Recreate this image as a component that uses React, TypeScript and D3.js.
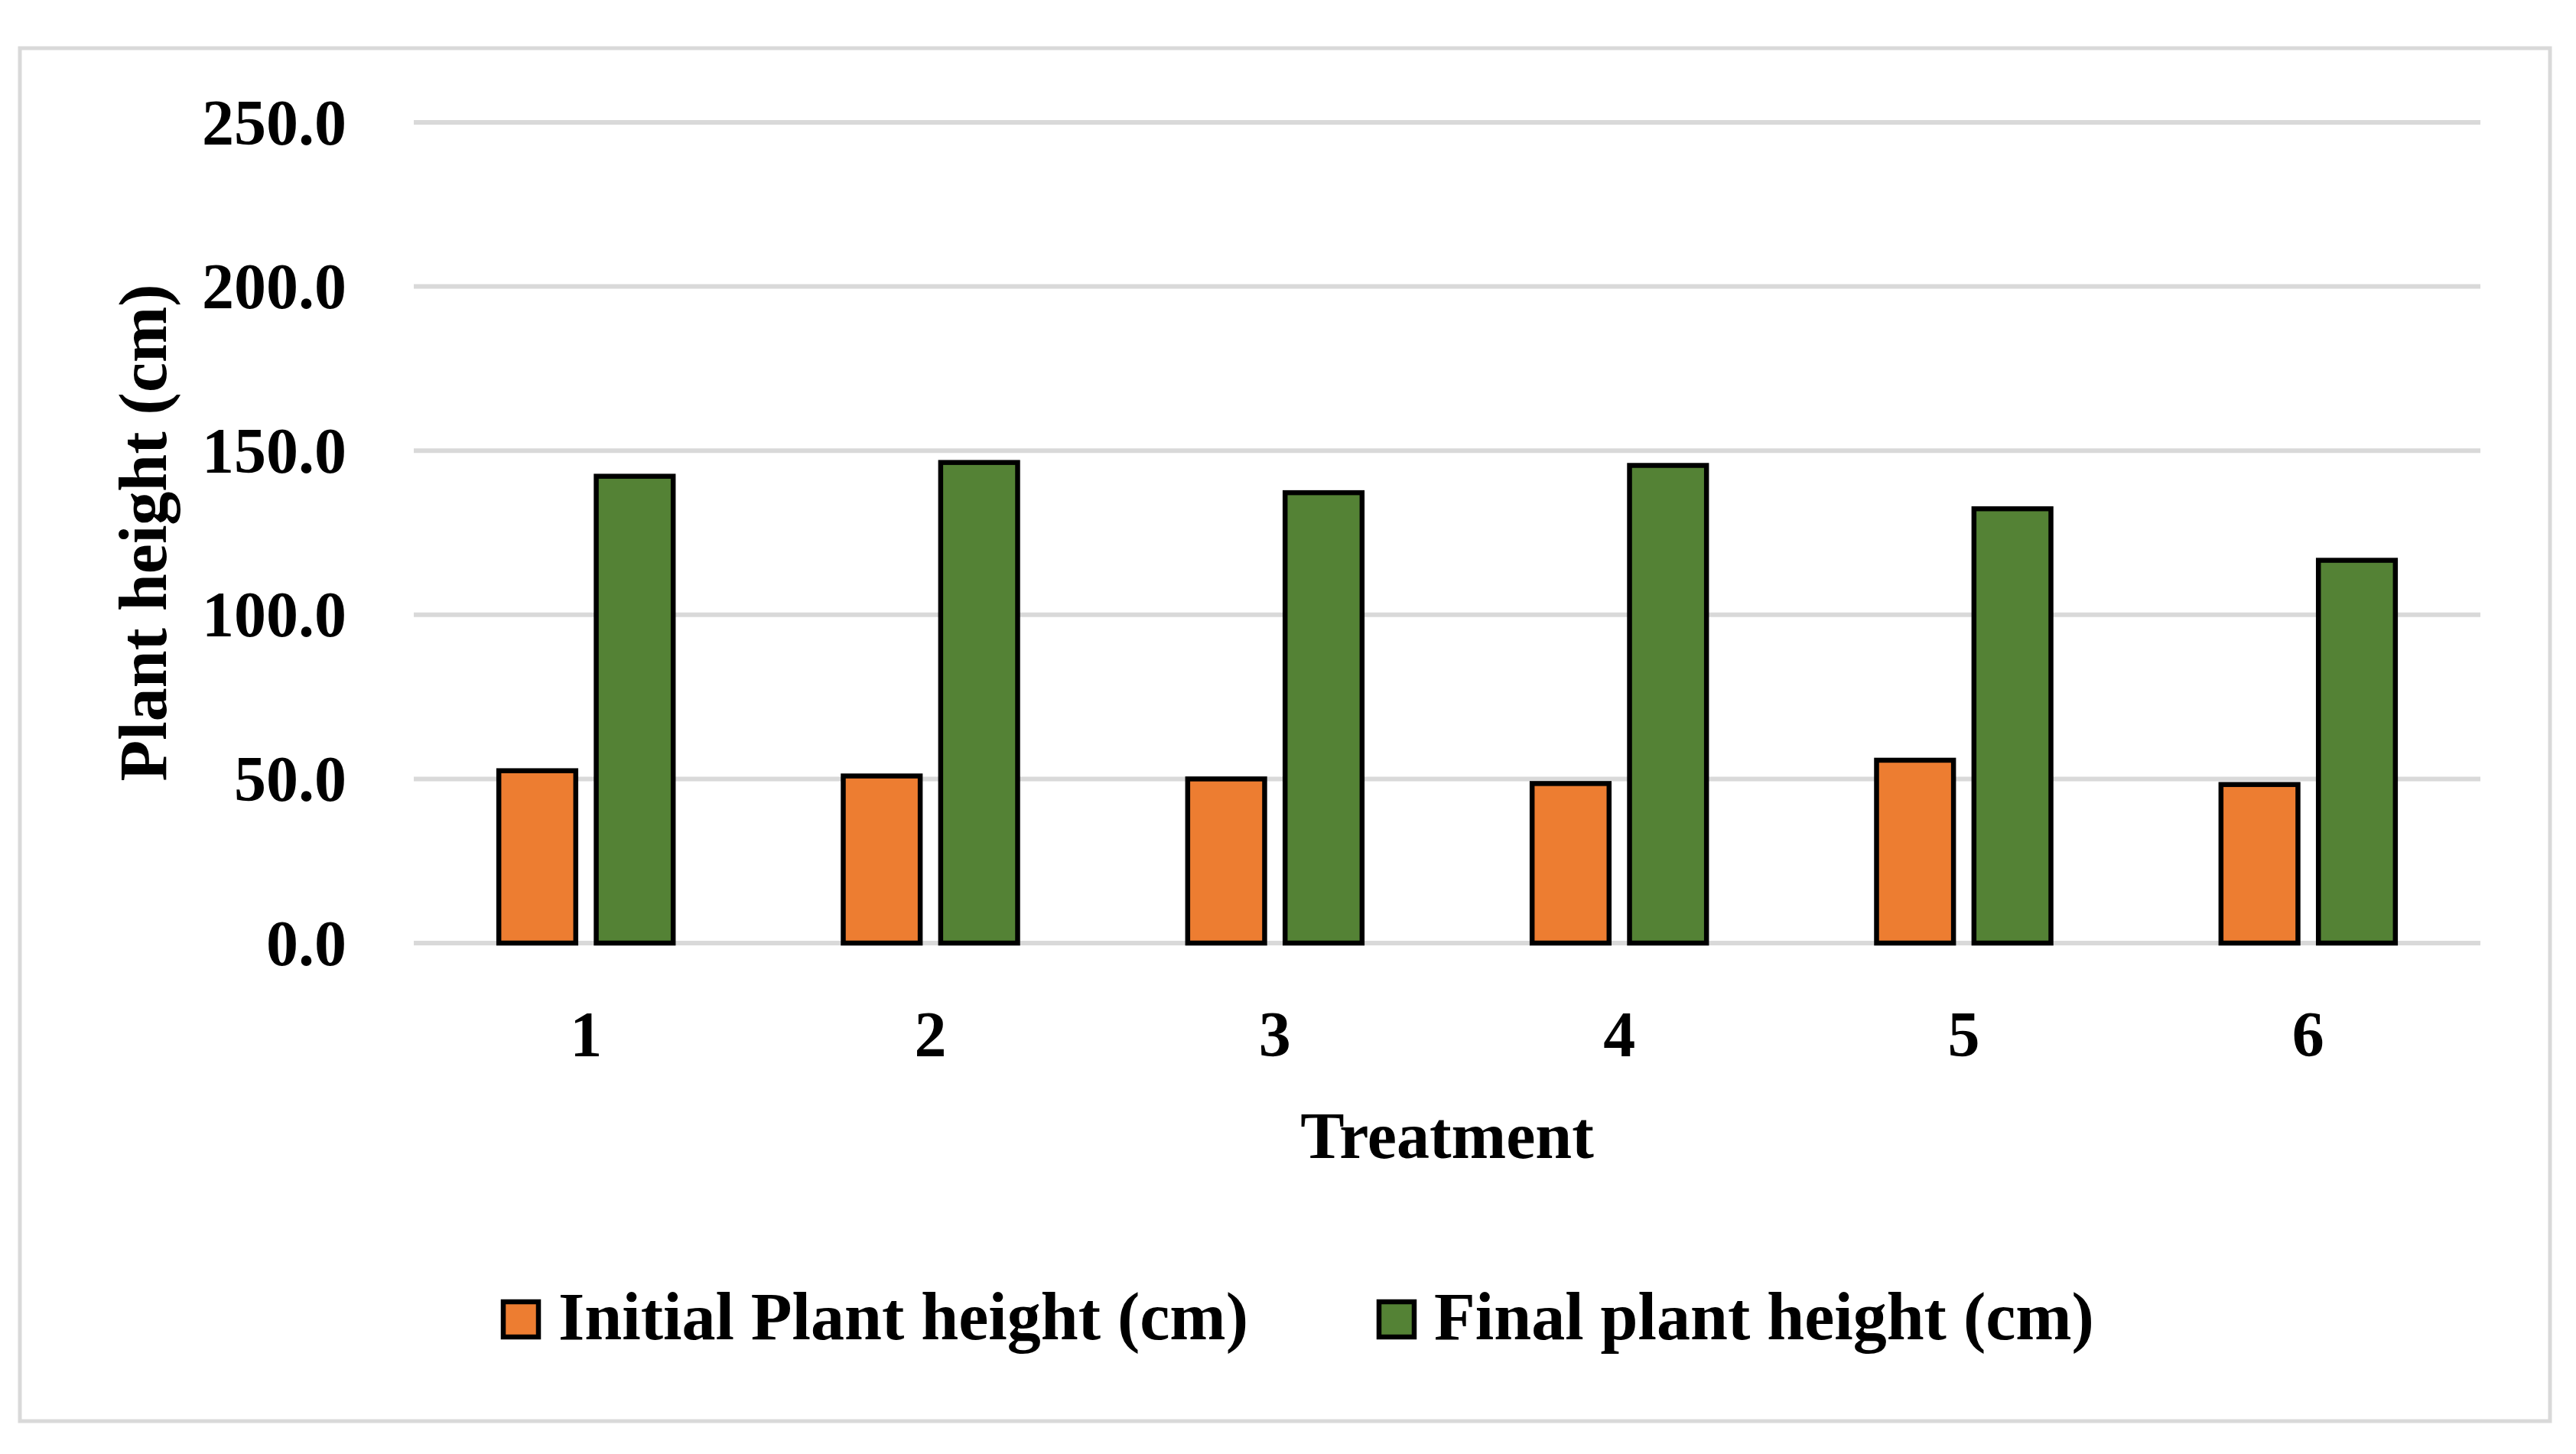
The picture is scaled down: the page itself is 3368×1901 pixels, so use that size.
import * as d3 from 'd3';
import React, { useRef, useEffect } from 'react';

const treatments = ['1', '2', '3', '4', '5', '6'];
const initialHeight = [52.5, 50.9, 50.0, 48.6, 55.7, 48.3];
const finalHeight = [142.2, 146.4, 137.2, 145.5, 132.3, 116.6];
const seriesNames = ['Initial Plant height (cm)', 'Final plant height (cm)'];
const seriesColors = ['#ED7D31', '#548235'];
const yTicks = [0, 50, 100, 150, 200, 250];

const W = 3368;
const H = 1901;
const FONT = '"Liberation Serif", "Times New Roman", serif';

const App: React.FC = () => {
  const svgRef = useRef<SVGSVGElement | null>(null);

  useEffect(() => {
    const svg = d3.select(svgRef.current).attr('width', W).attr('height', H);
    svg.selectAll('*').remove();

    svg.append('rect').attr('width', W).attr('height', H).attr('fill', '#fff');

    // outer chart border
    svg.append('rect')
      .attr('x', 26).attr('y', 63)
      .attr('width', 3334 - 26).attr('height', 1858 - 63)
      .attr('fill', 'none')
      .attr('stroke', '#D9D9D9')
      .attr('stroke-width', 5);

    const left = 541;
    const right = 3243;
    const top = 160;
    const bottom = 1233;

    const x0 = d3.scaleBand<string>().domain(treatments).range([left, right]);
    const groupW = 228;
    const x1 = d3.scaleBand<number>().domain([0, 1]).range([0, groupW]).paddingInner(0.21);
    const y = d3.scaleLinear().domain([0, 250]).range([bottom, top]);

    // gridlines
    svg.append('g')
      .selectAll('line')
      .data(yTicks)
      .join('line')
      .attr('x1', left).attr('x2', right)
      .attr('y1', d => y(d)).attr('y2', d => y(d))
      .attr('stroke', '#D9D9D9')
      .attr('stroke-width', 6);

    // y tick labels
    svg.append('g')
      .selectAll('text')
      .data(yTicks)
      .join('text')
      .attr('x', 453)
      .attr('y', d => y(d))
      .attr('dy', '0.34em')
      .attr('text-anchor', 'end')
      .attr('font-family', FONT)
      .attr('font-weight', 'bold')
      .attr('font-size', 84)
      .text(d => d3.format('.1f')(d));

    // bars
    const values = [initialHeight, finalHeight];
    const groups = svg.append('g')
      .selectAll('g')
      .data(treatments)
      .join('g')
      .attr('transform', d => `translate(${(x0(d) as number) + (x0.bandwidth() - groupW) / 2},0)`);

    groups.selectAll('rect')
      .data((_, i) => values.map((s, k) => ({ k, v: s[i] })))
      .join('rect')
      .attr('x', d => x1(d.k) as number)
      .attr('width', x1.bandwidth())
      .attr('y', d => y(d.v))
      .attr('height', d => y(0) - y(d.v))
      .attr('fill', d => seriesColors[d.k])
      .attr('stroke', '#000')
      .attr('stroke-width', 6.5);

    // x tick labels
    svg.append('g')
      .selectAll('text')
      .data(treatments)
      .join('text')
      .attr('x', d => (x0(d) as number) + x0.bandwidth() / 2)
      .attr('y', 1381)
      .attr('text-anchor', 'middle')
      .attr('font-family', FONT)
      .attr('font-weight', 'bold')
      .attr('font-size', 84)
      .text(d => d);

    // axis titles
    svg.append('text')
      .attr('x', (left + right) / 2)
      .attr('y', 1514)
      .attr('text-anchor', 'middle')
      .attr('font-family', FONT)
      .attr('font-weight', 'bold')
      .attr('font-size', 86)
      .text('Treatment');

    svg.append('text')
      .attr('transform', `translate(217,${(top + bottom) / 2}) rotate(-90)`)
      .attr('text-anchor', 'middle')
      .attr('font-family', FONT)
      .attr('font-weight', 'bold')
      .attr('font-size', 88)
      .text('Plant height (cm)');

    // legend
    const legendX = [655, 1800];
    const legend = svg.append('g')
      .selectAll('g')
      .data(seriesNames)
      .join('g')
      .attr('transform', (_, i) => `translate(${legendX[i]},1699)`);

    legend.append('rect')
      .attr('x', 3).attr('y', 3)
      .attr('width', 46).attr('height', 46)
      .attr('fill', (_, i) => seriesColors[i])
      .attr('stroke', '#000')
      .attr('stroke-width', 6.5);

    legend.append('text')
      .attr('x', 75)
      .attr('y', 52)
      .attr('font-family', FONT)
      .attr('font-weight', 'bold')
      .attr('font-size', 88)
      .text(d => d);
  }, []);

  return <svg ref={svgRef} style={{ position: 'absolute', left: 0, top: 0, display: 'block' }}></svg>;
};

export default App;
